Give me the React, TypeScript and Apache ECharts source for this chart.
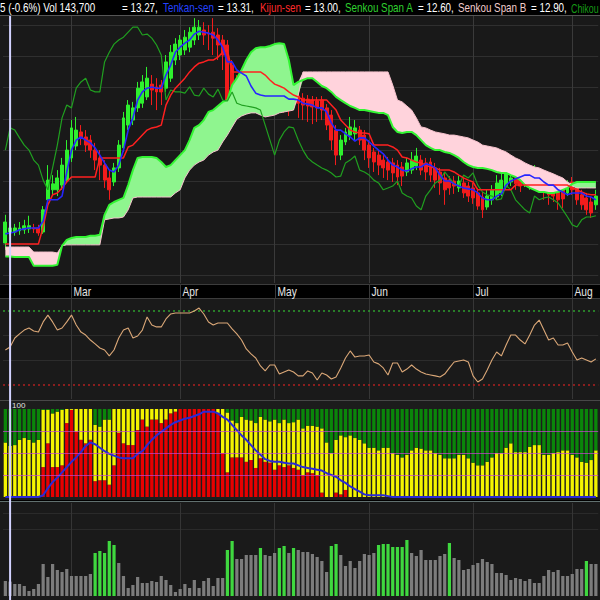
import React, { useEffect, useRef } from "react";
import * as echarts from "echarts";

// ---------- data ----------
const monthStarts = [14, 37, 57, 77, 99, 120];
const monthLabels = ["Mar", "Apr", "May", "Jun", "Jul", "Aug"];
const cursorIndex = 1;

// [open, close, low, high]
const candles = [
  [13.03, 13.70, 12.81, 13.93], [13.38, 13.51, 13.26, 13.70], [13.38, 13.51, 13.26, 13.64], [13.42, 13.51, 13.29, 13.70],
  [13.45, 13.58, 13.32, 13.77], [13.48, 13.58, 13.35, 13.90], [13.51, 13.48, 13.35, 13.64], [13.51, 13.35, 13.26, 13.61],
  [13.38, 14.09, 13.32, 14.21], [14.41, 15.04, 14.28, 15.52], [14.73, 14.92, 14.57, 15.20], [14.73, 15.11, 14.53, 15.36],
  [14.88, 15.52, 14.73, 15.75], [15.04, 16.00, 14.98, 16.32], [15.75, 16.71, 15.62, 16.96], [16.13, 16.64, 16.00, 17.06],
  [16.58, 16.39, 16.16, 16.80], [16.42, 16.16, 15.94, 16.64], [16.32, 16.00, 15.75, 16.48], [16.00, 15.68, 15.36, 16.23],
  [15.75, 15.52, 15.04, 16.00], [15.52, 15.04, 14.79, 15.68], [15.11, 14.73, 14.41, 15.36], [14.98, 15.43, 14.85, 15.59],
  [15.43, 16.16, 15.30, 16.32], [16.07, 17.03, 15.94, 17.22], [16.80, 17.44, 16.64, 17.60], [16.96, 17.35, 16.80, 17.54],
  [17.35, 17.98, 17.22, 18.18], [17.50, 18.18, 17.35, 18.40], [17.70, 18.30, 17.60, 18.66], [18.11, 17.92, 17.44, 18.40],
  [18.02, 17.86, 17.28, 18.30], [18.08, 17.86, 17.44, 18.24], [17.98, 18.82, 17.86, 19.04], [18.30, 19.13, 18.18, 19.36],
  [18.88, 19.39, 18.72, 19.58], [19.04, 19.52, 18.88, 19.68], [19.20, 19.61, 19.04, 19.84], [19.29, 19.77, 19.13, 19.93],
  [19.52, 19.93, 19.36, 20.22], [19.68, 19.93, 19.52, 20.16], [19.84, 19.68, 19.36, 20.09], [19.74, 19.71, 19.20, 20.00],
  [19.77, 19.58, 19.04, 20.22], [19.68, 19.36, 18.88, 19.90], [19.52, 19.04, 18.56, 19.68], [19.36, 17.60, 17.38, 19.52],
  [18.72, 17.92, 17.60, 18.88], [18.24, 17.86, 17.22, 18.40], [18.14, 17.86, 17.28, 18.30], [18.08, 17.82, 17.22, 18.24],
  [17.82, 18.02, 17.44, 18.24], [17.98, 17.76, 17.28, 18.18], [17.98, 17.73, 17.22, 18.11], [17.76, 17.98, 17.60, 18.24],
  [17.95, 17.79, 17.28, 18.11], [17.92, 17.70, 17.22, 18.08], [17.76, 17.95, 17.44, 18.18], [17.86, 17.60, 17.19, 18.05],
  [17.76, 17.57, 17.09, 17.98], [17.60, 17.86, 17.28, 18.05], [17.73, 17.50, 17.03, 17.86], [17.66, 17.44, 16.96, 17.82],
  [17.63, 17.41, 16.90, 17.76], [17.60, 17.38, 16.83, 17.73], [17.57, 17.35, 16.90, 17.70], [17.60, 17.28, 16.96, 17.73],
  [17.35, 16.80, 16.64, 17.47], [17.12, 16.32, 16.00, 17.28], [16.64, 15.84, 15.52, 16.80], [15.84, 16.32, 15.68, 16.48],
  [16.26, 16.58, 16.16, 16.71], [16.48, 16.74, 16.32, 17.06], [16.52, 16.71, 16.32, 16.96], [16.64, 16.32, 16.16, 16.77],
  [16.48, 16.00, 15.68, 16.64], [16.16, 15.75, 15.43, 16.32], [15.94, 15.62, 15.30, 16.07], [15.84, 15.52, 15.20, 16.00],
  [15.68, 15.43, 15.11, 15.84], [15.62, 15.36, 15.04, 15.78], [15.59, 15.27, 14.98, 15.75], [15.52, 15.14, 14.88, 15.68],
  [15.46, 15.17, 14.85, 15.62], [15.30, 15.59, 15.17, 15.75], [15.36, 15.68, 15.24, 15.94], [15.49, 15.81, 15.36, 16.07],
  [15.68, 15.36, 15.20, 15.84], [15.59, 15.30, 15.04, 15.75], [15.62, 15.20, 14.98, 15.75], [15.43, 15.04, 14.79, 15.59],
  [15.30, 14.95, 14.57, 15.43], [15.11, 14.73, 14.25, 15.30], [15.04, 14.79, 14.57, 15.17], [15.01, 14.85, 14.60, 15.17],
  [14.79, 15.01, 14.66, 15.17], [14.95, 14.63, 14.47, 15.11], [14.85, 14.53, 14.34, 14.98], [14.79, 14.47, 14.28, 14.95],
  [14.63, 14.21, 14.09, 14.79], [14.50, 14.09, 13.83, 14.66], [14.18, 14.53, 14.09, 14.73], [14.41, 14.73, 14.25, 14.88],
  [14.50, 14.95, 14.41, 15.20], [14.63, 15.04, 14.53, 15.36], [14.82, 15.30, 14.73, 15.68], [14.98, 15.11, 14.85, 15.75],
  [15.08, 14.92, 14.73, 15.30], [15.04, 14.85, 14.66, 15.20], [14.95, 15.20, 14.82, 15.43], [14.88, 15.11, 14.73, 15.36],
  [15.04, 15.27, 14.88, 15.52], [15.20, 14.88, 14.66, 15.36], [15.04, 14.66, 14.41, 15.20], [14.88, 14.57, 14.25, 15.04],
  [14.85, 14.53, 14.34, 15.04], [14.79, 14.41, 14.09, 14.98], [14.73, 14.44, 14.15, 14.88], [14.63, 14.88, 14.53, 15.04],
  [14.98, 14.73, 14.57, 15.14], [14.79, 14.41, 14.25, 14.95], [14.57, 14.25, 14.09, 14.73], [14.47, 14.09, 13.93, 14.63],
  [14.34, 13.99, 13.83, 14.50], [14.25, 14.53, 14.09, 14.73],
];

// closes of the 13 sessions after the visible window (seen through the lagging span)
const laterCloses = [14.41, 14.47, 14.50, 14.41, 14.31, 14.09, 13.86, 13.61, 13.54, 13.77, 13.86, 13.86, 13.90];
const chikouShift = 13;

const tenkan = [
  13.32, 13.35, 13.38, 13.45, 13.48, 13.51, 13.51, 13.51, 13.73, 14.41,
  14.41, 14.41, 14.53, 15.30, 16.00, 16.32, 16.42, 16.32, 16.23, 16.07,
  15.84, 15.59, 15.36, 15.30, 15.52, 16.00, 16.64, 17.03, 17.60, 17.86,
  17.98, 18.02, 17.98, 17.98, 18.40, 18.72, 19.13, 19.29, 19.42, 19.52,
  19.71, 19.80, 19.77, 19.74, 19.68, 19.52, 19.29, 18.82, 18.82, 18.56,
  18.46, 18.37, 18.05, 17.82, 17.76, 17.73, 17.73, 17.73, 17.73, 17.73,
  17.63, 17.63, 17.60, 17.50, 17.47, 17.44, 17.35, 17.35, 17.22, 16.87,
  16.64, 16.64, 16.52, 16.42, 16.29, 16.39, 16.39, 16.26, 16.13, 16.00,
  15.88, 15.68, 15.52, 15.46, 15.36, 15.33, 15.40, 15.46, 15.46, 15.56,
  15.52, 15.43, 15.20, 15.01, 15.01, 14.92, 14.85, 14.79, 14.76, 14.73,
  14.63, 14.47, 14.41, 14.41, 14.53, 14.60, 14.88, 15.01, 15.08, 15.14,
  15.20, 15.20, 15.11, 15.11, 14.98, 14.88, 14.88, 14.73, 14.66, 14.57,
  14.63, 14.63, 14.63, 14.53, 14.50, 14.41,
];

const kijun = [
  13.00, 13.00, 13.00, 13.00, 13.00, 13.00, 13.00, 13.00, 13.54, 14.25,
  14.57, 14.63, 14.79, 14.98, 15.14, 15.14, 15.14, 15.14, 15.14, 15.14,
  15.75, 15.75, 15.75, 15.75, 15.75, 15.75, 16.10, 16.16, 16.32, 16.48,
  16.64, 16.71, 16.74, 16.80, 17.44, 17.76, 17.98, 18.14, 18.30, 18.50,
  18.66, 18.78, 18.82, 18.88, 18.88, 18.97, 19.13, 19.20, 18.50, 18.50,
  18.50, 18.50, 18.50, 18.50, 18.50, 18.40, 18.24, 18.11, 18.05, 17.98,
  17.86, 17.76, 17.70, 17.60, 17.60, 17.60, 17.60, 17.60, 17.60, 17.44,
  17.28, 16.96, 16.80, 16.64, 16.58, 16.55, 16.55, 16.52, 16.16, 16.16,
  16.16, 16.16, 16.10, 16.00, 15.78, 15.75, 15.68, 15.62, 15.59, 15.52,
  15.46, 15.43, 15.36, 15.36, 15.36, 15.30, 15.20, 15.11, 15.04, 14.98,
  14.73, 14.73, 14.73, 14.73, 14.73, 14.73, 14.73, 14.73, 14.88, 14.88,
  14.88, 14.88, 14.88, 14.88, 14.88, 14.88, 14.88, 14.88, 14.88, 14.88,
  14.79, 14.73, 14.66, 14.60, 14.57, 14.57,
];

const senkouA = [
  12.60, 12.60, 12.58, 12.58, 12.58, 12.58, 12.30, 12.30, 12.30, 12.30,
  12.30, 12.33, 12.94, 13.13, 13.19, 13.22, 13.22, 13.22, 13.26, 13.26,
  13.29, 13.93, 14.25, 14.34, 14.41, 14.47, 14.88, 15.36, 15.75, 15.78,
  15.78, 15.78, 15.75, 15.62, 15.46, 15.52, 15.68, 15.84, 16.00, 16.32,
  16.71, 16.80, 16.96, 17.22, 17.28, 17.41, 17.54, 17.60, 18.08, 18.30,
  18.56, 18.88, 19.13, 19.26, 19.29, 19.29, 19.33, 19.39, 19.42, 19.39,
  18.88, 18.08, 18.18, 18.24, 18.30, 18.30, 18.18, 18.05, 17.98, 17.86,
  17.70, 17.60, 17.50, 17.41, 17.35, 17.28, 17.28, 17.25, 17.22, 17.19,
  17.19, 17.12, 16.74, 16.58, 16.55, 16.58, 16.58, 16.48, 16.32, 16.16,
  16.07, 16.00, 16.00, 15.94, 15.91, 15.84, 15.75, 15.62, 15.52, 15.46,
  15.43, 15.43, 15.40, 15.36, 15.30, 15.27, 15.27, 15.20, 15.14, 15.04,
  14.88, 14.79, 14.73, 14.66, 14.66, 14.63, 14.63, 14.66, 14.73, 14.79,
  14.92, 14.98, 14.98, 14.98, 14.98, 14.98,
];

const senkouB = [
  12.90, 12.90, 12.90, 12.90, 12.90, 12.90, 12.74, 12.74, 12.74, 12.74,
  12.74, 12.71, 12.94, 12.97, 12.97, 12.97, 12.97, 12.97, 12.97, 12.97,
  12.97, 13.77, 13.80, 13.83, 13.83, 13.86, 14.09, 14.47, 14.50, 14.50,
  14.50, 14.50, 14.50, 14.50, 14.50, 14.50, 14.63, 14.73, 15.11, 15.36,
  15.52, 15.62, 15.68, 15.84, 15.94, 16.00, 16.26, 16.48, 16.74, 16.99,
  17.09, 17.15, 17.19, 17.19, 17.12, 17.06, 17.09, 17.12, 17.19, 17.22,
  17.25, 17.28, 17.76, 18.50, 18.50, 18.50, 18.50, 18.50, 18.50, 18.50,
  18.50, 18.50, 18.50, 18.50, 18.50, 18.50, 18.50, 18.50, 18.50, 18.50,
  18.50, 18.50, 18.08, 17.60, 17.54, 17.41, 17.28, 17.03, 16.74, 16.71,
  16.64, 16.58, 16.55, 16.52, 16.48, 16.48, 16.45, 16.42, 16.39, 16.32,
  16.26, 16.16, 16.13, 16.10, 16.07, 16.00, 15.94, 15.84, 15.75, 15.68,
  15.59, 15.52, 15.46, 15.43, 15.36, 15.30, 15.24, 15.17, 15.11, 14.98,
  14.85, 14.79, 14.79, 14.79, 14.79, 14.79,
];

const priceGridLevels = [12, 13, 14, 15, 16, 17, 18, 19, 20];

const rsi = [
  48.9, 50.5, 55.4, 57.6, 59.7, 60.8, 59.2, 58.6, 64.1, 67.8,
  64.1, 59.7, 60.8, 64.1, 67.8, 62.4, 58.6, 57.0, 54.3, 52.2,
  50.0, 48.9, 45.7, 48.9, 55.4, 59.7, 60.8, 55.4, 56.5, 59.7,
  66.8, 62.4, 61.4, 61.4, 65.7, 68.4, 68.9, 68.9, 68.9, 68.9,
  70.0, 71.6, 68.4, 64.1, 62.4, 63.5, 63.5, 63.5, 60.3, 57.6,
  54.3, 49.5, 46.8, 44.6, 40.3, 37.6, 40.8, 40.8, 35.9, 37.0,
  38.1, 37.0, 34.9, 34.9, 37.6, 36.5, 32.7, 36.5, 35.4, 33.2,
  34.3, 39.2, 44.6, 48.4, 45.1, 45.7, 45.7, 46.2, 42.4, 41.4,
  39.2, 35.4, 41.9, 41.9, 37.0, 38.6, 40.8, 38.6, 37.0, 35.9,
  35.4, 34.9, 34.3, 35.9, 39.2, 42.4, 43.0, 43.5, 42.4, 34.9,
  31.6, 33.2, 38.1, 43.5, 47.8, 45.7, 51.6, 57.0, 57.0, 54.3,
  52.2, 57.0, 62.4, 65.1, 59.7, 54.3, 55.4, 51.6, 51.6, 52.7,
  47.8, 43.5, 44.6, 43.5, 42.4, 44.1,
];
const rsiLevels = [70, 30];
const rsiGuides = [56.67, 43.33];

const redPct = [
  0, 0, 0, 0, 0, 0, 0, 0, 34, 61,
  34, 34, 36, 84, 99, 74, 65, 61, 65, 18,
  19, 19, 14, 36, 73, 61, 59, 59, 76, 88,
  80, 88, 88, 84, 88, 95, 97, 100, 100, 100,
  100, 100, 100, 100, 100, 95, 50, 28, 45, 45,
  45, 40, 42, 33, 44, 40, 39, 31, 36, 34,
  36, 33, 31, 25, 28, 27, 25, 5, 0, 0,
  5, 3, 8, 0, 0, 0, 0, 0, 0, 0,
  0, 0, 0, 0, 0, 0, 0, 0, 0, 0,
  0, 0, 0, 0, 0, 0, 0, 0, 0, 0,
  0, 0, 0, 0, 0, 0, 0, 0, 0, 0,
  0, 0, 0, 0, 0, 0, 0, 0, 0, 0,
  0, 0, 0, 0, 0, 0,
];
const yellowPct = [
  62, 58, 59, 65, 67, 65, 62, 65, 65, 38,
  61, 63, 63, 16, 1, 26, 35, 39, 35, 64,
  61, 69, 74, 64, 27, 39, 41, 41, 24, 12,
  20, 12, 12, 16, 12, 5, 3, 0, 0, 0,
  0, 0, 0, 0, 0, 5, 50, 68, 42, 39,
  46, 48, 45, 51, 47, 48, 47, 57, 48, 54,
  48, 52, 57, 53, 53, 54, 55, 73, 62, 50,
  60, 67, 60, 70, 67, 65, 61, 56, 56, 53,
  56, 56, 50, 48, 45, 48, 53, 56, 55, 53,
  53, 50, 48, 44, 44, 44, 48, 48, 44, 39,
  36, 36, 40, 45, 50, 50, 56, 61, 51, 51,
  51, 57, 59, 59, 48, 48, 50, 51, 53, 53,
  48, 45, 40, 39, 42, 53,
];
const greenPct = [
  38, 42, 41, 35, 33, 35, 38, 35, 1, 1,
  5, 3, 1, 0, 0, 0, 0, 0, 0, 18,
  20, 12, 12, 0, 0, 0, 0, 0, 0, 0,
  0, 0, 0, 0, 0, 0, 0, 0, 0, 0,
  0, 0, 0, 0, 0, 0, 0, 4, 13, 16,
  9, 12, 13, 16, 9, 12, 14, 12, 16, 12,
  16, 15, 12, 22, 19, 19, 20, 22, 38, 50,
  35, 30, 32, 30, 33, 35, 39, 44, 44, 47,
  44, 44, 50, 52, 55, 52, 47, 44, 45, 47,
  47, 50, 52, 56, 56, 56, 52, 52, 56, 61,
  64, 64, 60, 55, 50, 50, 44, 39, 49, 49,
  49, 43, 41, 41, 52, 52, 50, 49, 47, 47,
  52, 55, 60, 61, 58, 47,
];
const bluePct = [
  0, 0, 0, 0, 0, 0, 0, 0, 2, 10,
  17, 22, 28, 34, 40, 45, 51, 58, 62, 60,
  56, 52, 49, 47, 45, 44, 44, 44, 49, 52,
  59, 65, 70, 74, 78, 82, 85, 87, 89, 90,
  92, 94, 97, 97, 97, 95, 91, 88, 82, 76,
  70, 65, 59, 53, 48, 43, 41, 40, 40, 39,
  38, 38, 36, 34, 33, 32, 31, 30, 27, 25,
  23, 19, 16, 12, 9, 6, 3, 2, 2, 2,
  2, 1, 0, 0, 0, 0, 0, 0, 0, 0,
  0, 0, 0, 0, 0, 0, 0, 0, 0, 0,
  0, 0, 0, 0, 0, 0, 0, 0, 0, 0,
  0, 0, 0, 0, 0, 0, 0, 0, 0, 0,
  0, 0, 0, 0, 0, 0,
];
const pctGuides = [25, 50, 75];

const volume = [
  150000, 143700, 120000, 120000, 100000, 50000, 70000, 120000, 320000, 190000,
  320000, 260000, 240000, 270000, 200000, 200000, 200000, 200000, 220000, 430000,
  450000, 430000, 550000, 510000, 330000, 200000, 80000, 110000, 190000, 130000,
  130000, 150000, 140000, 200000, 160000, 110000, 40000, 70000, 120000, 80000,
  160000, 80000, 150000, 180000, 100000, 180000, 180000, 460000, 550000, 370000,
  370000, 410000, 410000, 410000, 480000, 410000, 400000, 430000, 480000, 500000,
  430000, 480000, 460000, 440000, 440000, 420000, 390000, 350000, 240000, 500000,
  520000, 410000, 300000, 350000, 280000, 350000, 420000, 410000, 430000, 510000,
  520000, 520000, 490000, 490000, 490000, 560000, 430000, 400000, 460000, 360000,
  360000, 360000, 400000, 420000, 530000, 380000, 360000, 260000, 270000, 310000,
  330000, 370000, 340000, 320000, 230000, 230000, 210000, 160000, 180000, 170000,
  150000, 170000, 130000, 130000, 200000, 260000, 240000, 260000, 200000, 200000,
  220000, 270000, 270000, 350000, 320000, 320000,
];
const highVolumeDays = [19, 20, 21, 22, 23, 47, 48, 54, 58, 59, 61, 69, 70, 79, 80, 81, 82, 83, 84, 85, 94, 123];
const volumeGuides = [670000, 830000];

const headerSegments = [
  { text: "5 (-0.6%) Vol 143,700", color: "#ffffff" },
  { text: "= 13.27,", color: "#ffffff" },
  { text: "Tenkan-sen", color: "#2443ff" },
  { text: "= 13.31,", color: "#ffffff" },
  { text: "Kijun-sen", color: "#ff2a2a" },
  { text: "= 13.00,", color: "#ffffff" },
  { text: "Senkou Span A", color: "#2fd02f" },
  { text: "= 12.60,", color: "#ffffff" },
  { text: "Senkou Span B", color: "#f0cccc" },
  { text: "= 12.90,", color: "#ffffff" },
  { text: "Chikou", color: "#169a16" },
];
const headerX = [0, 122, 163, 218, 260, 305, 345, 418, 458, 531, 571];
const headerScale = [0.82, 0.82, 0.82, 0.82, 0.82, 0.82, 0.82, 0.82, 0.82, 0.82, 0.74];

const FONT = '"Liberation Sans", Arial, sans-serif';

export default function App() {
  const ref = useRef<HTMLDivElement>(null);

  useEffect(() => {
    const el = ref.current!;
    const chart = echarts.init(el, null, { renderer: "svg" });
    const n = candles.length;
    const categories = candles.map((_, i) => "d" + i);
    const closes = candles.map((c) => c[1]);
    const chikou = closes.slice(chikouShift).concat(laterCloses);

    const cloudBase = senkouA.map((a, i) => Math.min(a, senkouB[i]));
    const cloudUp = senkouA.map((a, i) => Math.max(a - senkouB[i], 0));
    const cloudDown = senkouA.map((a, i) => Math.max(senkouB[i] - a, 0));

    const gridLeft = 3;
    const slot = 4.724;
    const gridWidth = n * slot;

    const grids = [
      { left: gridLeft, width: gridWidth, top: 15, height: 268 },
      { left: gridLeft, width: gridWidth, top: 299, height: 100 },
      { left: gridLeft, width: gridWidth, top: 409, height: 88 },
      { left: gridLeft, width: gridWidth, top: 503, height: 93 },
    ];

    const ml = (data: any[], z = 1) => ({
      silent: true,
      symbol: ["none", "none"],
      label: { show: false },
      emphasis: { disabled: true },
      animation: false,
      z,
      data,
    });
    const monthLines = (color: string) =>
      monthStarts.map((i) => ({ xAxis: categories[i], lineStyle: { color, width: 1, type: "solid" } }));
    const hLines = (vals: number[], color: string, type: any = "solid", width = 1) =>
      vals.map((v) => ({ yAxis: v, lineStyle: { color, width, type } }));

    const lineSeries = (data: number[], color: string, width: number, xi: number, extra: any = {}) => ({
      type: "line",
      xAxisIndex: xi,
      yAxisIndex: xi,
      data,
      symbol: "none",
      silent: true,
      lineStyle: { color, width },
      itemStyle: { color },
      emphasis: { disabled: true },
      ...extra,
    });

    const option: any = {
      animation: false,
      backgroundColor: "#000000",
      grid: grids,
      xAxis: [0, 1, 2, 3].map((g) => ({
        type: "category",
        gridIndex: g,
        data: categories,
        boundaryGap: true,
        show: false,
      })),
      yAxis: [
        { type: "value", gridIndex: 0, min: 11.75, max: 20.32, show: false },
        { type: "value", gridIndex: 1, min: 22.4, max: 76.5, show: false },
        { type: "value", gridIndex: 2, min: 0, max: 100, show: false },
        { type: "value", gridIndex: 3, min: 0, max: 930000, show: false },
      ],
      series: [
        // ---- main panel: cloud ----
        {
          ...lineSeries(cloudBase, "rgba(0,0,0,0)", 0, 0),
          stack: "cloud",
          lineStyle: { opacity: 0, width: 0 },
          markLine: ml([...hLines(priceGridLevels, "#2f2f2f"), ...monthLines("#3a3a3a")]),
        },
        {
          ...lineSeries(cloudUp, "#90f890", 0, 0),
          stack: "cloud",
          lineStyle: { opacity: 0, width: 0 },
          areaStyle: { color: "#8ff58f", opacity: 1 },
        },
        {
          ...lineSeries(cloudDown, "#ffd3dc", 0, 0),
          stack: "cloud",
          lineStyle: { opacity: 0, width: 0 },
          areaStyle: { color: "#ffd3dc", opacity: 1 },
        },
        lineSeries(senkouB, "#f5c2cd", 1, 0),
        lineSeries(senkouA, "#33f533", 2, 0),
        lineSeries(chikou, "#20a020", 1.2, 0),
        lineSeries(kijun, "#ff2020", 1.5, 0),
        lineSeries(tenkan, "#2626ff", 1.6, 0),
        {
          type: "candlestick",
          xAxisIndex: 0,
          yAxisIndex: 0,
          data: candles,
          barWidth: 3.4,
          silent: true,
          itemStyle: {
            color: "#2ef02e",
            color0: "#f21c1c",
            borderColor: "#2ef02e",
            borderColor0: "#f21c1c",
            borderWidth: 1,
          },
        },
        // ---- RSI-like oscillator ----
        lineSeries(rsi, "#dba878", 1.1, 1, {
          markLine: ml([
            ...hLines(rsiGuides, "#2c2c2c"),
            ...monthLines("#363636"),
            { yAxis: rsiLevels[0], lineStyle: { color: "#2e9e2e", width: 1.5, type: [2, 3] } },
            { yAxis: rsiLevels[1], lineStyle: { color: "#b02020", width: 1.5, type: [2, 3] } },
          ]),
        }),
        // ---- stacked percentage bars ----
        {
          type: "bar", xAxisIndex: 2, yAxisIndex: 2, stack: "pct", data: redPct,
          barWidth: "70%", silent: true, itemStyle: { color: "#e80000" },
        },
        {
          type: "bar", xAxisIndex: 2, yAxisIndex: 2, stack: "pct", data: yellowPct,
          barWidth: "70%", silent: true, itemStyle: { color: "#f4f400" },
        },
        {
          type: "bar", xAxisIndex: 2, yAxisIndex: 2, stack: "pct", data: greenPct,
          barWidth: "70%", silent: true, itemStyle: { color: "#0a860a" },
        },
        lineSeries(bluePct, "#2a2ad8", 2, 2, {
          markLine: ml(hLines(pctGuides, "rgba(200,70,210,0.7)"), 5),
        }),
        // ---- volume ----
        {
          type: "bar",
          xAxisIndex: 3,
          yAxisIndex: 3,
          barWidth: "68%",
          silent: true,
          data: volume.map((v, i) => ({
            value: v,
            itemStyle: { color: highVolumeDays.includes(i) ? "#3fd83f" : "#7c7c7c" },
          })),
          markLine: ml([...hLines(volumeGuides, "#2a2a2a"), ...monthLines("#353535")]),
        },
      ],
    };

    chart.setOption(option);

    const px = (i: number) => chart.convertToPixel({ xAxisIndex: 0 }, categories[i]) as number;

    const elements: any[] = [
      // panel backgrounds
      { type: "rect", shape: { x: 0, y: 15, width: 600, height: 269 }, style: { fill: "#191919" }, z: 0 },
      { type: "rect", shape: { x: 0, y: 299, width: 600, height: 101 }, style: { fill: "#1a1a1a" }, z: 0 },
      { type: "rect", shape: { x: 0, y: 401, width: 600, height: 99 }, style: { fill: "#1c1c1c" }, z: 0 },
      { type: "rect", shape: { x: 0, y: 502, width: 600, height: 98 }, style: { fill: "#1a1a1a" }, z: 0 },
      // separators
      { type: "line", shape: { x1: 0, y1: 15.5, x2: 600, y2: 15.5 }, style: { stroke: "#555", lineWidth: 1 }, z: 1 },
      { type: "line", shape: { x1: 0, y1: 284.5, x2: 600, y2: 284.5 }, style: { stroke: "#3c3c3c", lineWidth: 1 }, z: 1 },
      { type: "line", shape: { x1: 0, y1: 298.5, x2: 600, y2: 298.5 }, style: { stroke: "#3c3c3c", lineWidth: 1 }, z: 1 },
      { type: "line", shape: { x1: 0, y1: 400.5, x2: 600, y2: 400.5 }, style: { stroke: "#484848", lineWidth: 1 }, z: 1 },
      { type: "line", shape: { x1: 0, y1: 501.5, x2: 600, y2: 501.5 }, style: { stroke: "#61706f", lineWidth: 1 }, z: 1 },
    ];

    headerSegments.forEach((seg, k) => {
      elements.push({
        type: "text",
        x: headerX[k],
        y: 8,
        scaleX: headerScale[k],
        z: 10,
        style: { text: seg.text, fill: seg.color, font: `12px ${FONT}`, verticalAlign: "middle", align: "left" },
      });
    });

    monthStarts.forEach((idx, k) => {
      const x = Math.round(px(idx)) + 0.5;
      elements.push({
        type: "line",
        shape: { x1: x, y1: 284, x2: x, y2: 298 },
        style: { stroke: "#3a3a3a", lineWidth: 1 },
        z: 2,
      });
      elements.push({
        type: "text",
        x: x + 2,
        y: 291.5,
        scaleX: 0.85,
        z: 10,
        style: { text: monthLabels[k], fill: "#e6e6e6", font: `12px ${FONT}`, verticalAlign: "middle", align: "left" },
      });
    });

    elements.push({
      type: "text",
      x: 12,
      y: 405,
      z: 61,
      style: { text: "100", fill: "#e0e0e0", font: `8px ${FONT}`, verticalAlign: "middle", align: "left" },
    });

    const cx = px(cursorIndex);
    elements.push({
      type: "line",
      shape: { x1: cx, y1: 16, x2: cx, y2: 600 },
      style: { stroke: "#d2d2ff", lineWidth: 2 },
      z: 60,
    });

    chart.setOption({ graphic: { elements } });

    return () => chart.dispose();
  }, []);

  return (
    <div
      ref={ref}
      style={{ position: "fixed", left: 0, top: 0, width: 600, height: 600, background: "#000" }}
    />
  );
}
